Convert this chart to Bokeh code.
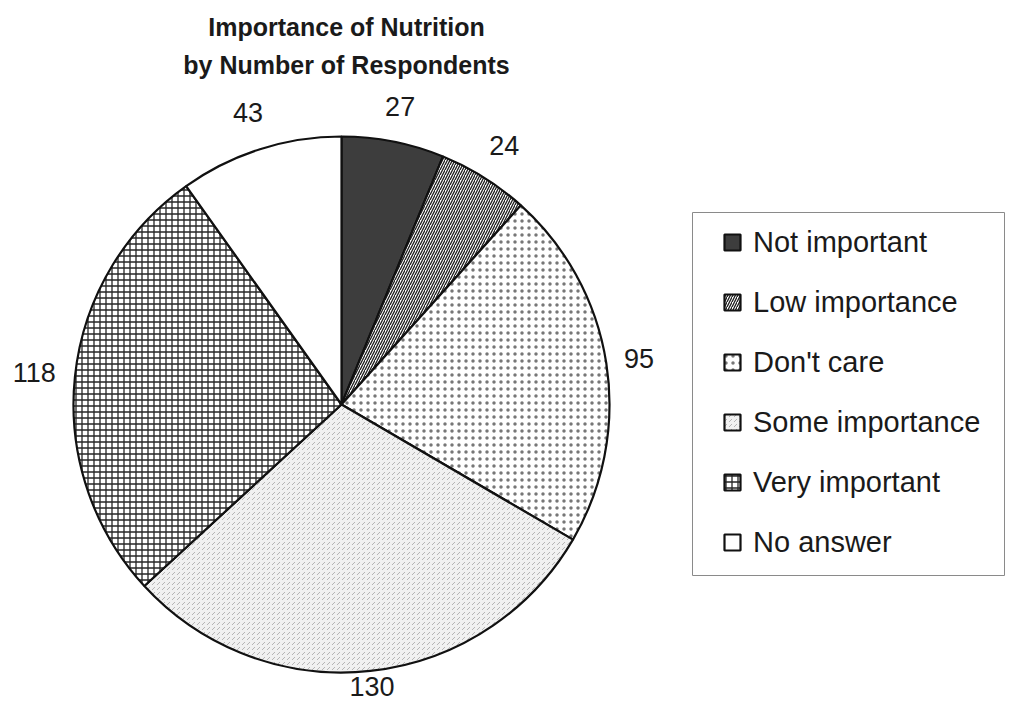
import numpy as np
from bokeh.plotting import figure
from bokeh.models import ColumnDataSource, Legend, LegendItem
from bokeh.core.properties import value
from bokeh.embed import file_html
from bokeh.resources import INLINE

# ---- data ----
categories = ["Not important", "Low importance", "Don't care",
              "Some importance", "Very important", "No answer"]
counts = [27, 24, 95, 130, 118, 43]
title_lines = ["Importance of Nutrition", "by Number of Respondents"]

# ---- styles / layout ----
fill_colors = ["#3d3d3d", "#ffffff", "#ffffff", "#f1f1f1", "#ffffff", "#ffffff"]
hatch_patterns = [" ", "/", "dot", "right_diagonal_dash", "+", " "]
hatch_colors = ["#555555", "#1e1e1e", "#777777", "#999999", "#262626", "#000000"]
hatch_scales = [6, 5, 7, 5, 6, 6]
hatch_weights = [1, 1.3, 3.2, 0.7, 1.3, 1]
label_radius = [304, 306, 301, 284, 309, 307]

W, H = 1005, 704
CX, CY, R = 341, 300, 268
FONT_NAME = "Liberation Sans"
FONT = value(FONT_NAME)

p = figure(width=W, height=H, x_range=(0, W), y_range=(0, H),
           output_backend="svg", toolbar_location=None,
           x_axis_location=None, y_axis_location=None, min_border=0)
p.grid.visible = False
p.outline_line_color = None

total = float(sum(counts))
frac = np.array(counts) / total
cum = np.concatenate([[0.0], np.cumsum(frac)])
start = np.pi / 2 - 2 * np.pi * cum[:-1]
end = np.pi / 2 - 2 * np.pi * cum[1:]
mid = (start + end) / 2

items = []
for i, cat in enumerate(categories):
    src = ColumnDataSource(dict(x=[CX], y=[CY], s=[start[i]], e=[end[i]]))
    r = p.wedge(x="x", y="y", radius=R, start_angle="s", end_angle="e",
                direction="clock", source=src,
                fill_color=fill_colors[i], line_color="#111111", line_width=2.2,
                hatch_pattern=hatch_patterns[i], hatch_color=hatch_colors[i],
                hatch_scale=hatch_scales[i], hatch_weight=hatch_weights[i])
    items.append(LegendItem(label=cat, renderers=[r]))

# value labels
lx = [CX + label_radius[i] * np.cos(mid[i]) for i in range(len(counts))]
ly = [CY + label_radius[i] * np.sin(mid[i]) for i in range(len(counts))]
p.text(x=lx, y=ly, text=[str(c) for c in counts], text_font=FONT,
       text_font_size="27px", text_align="center", text_baseline="middle",
       text_color="#1a1a1a")

# title
p.text(x=[346, 346], y=[678, 640], text=title_lines, text_font=FONT,
       text_font_size="25px", text_font_style="bold", text_align="center",
       text_baseline="alphabetic", text_color="#1a1a1a")

# legend frame
p.quad(left=[692], right=[1004], bottom=[129], top=[492],
       fill_color="white", line_color="#8a8a8a", line_width=1)

legend = Legend(items=items, location=(710, 132),
                label_text_font=FONT_NAME, label_text_font_size="29px",
                label_text_color="#1a1a1a", label_height=36,
                glyph_width=20, glyph_height=20, label_standoff=11,
                spacing=24, padding=12, margin=0,
                border_line_alpha=0, background_fill_alpha=0)
p.add_layout(legend, "center")

open("out.html", "w").write(file_html(p, INLINE))
